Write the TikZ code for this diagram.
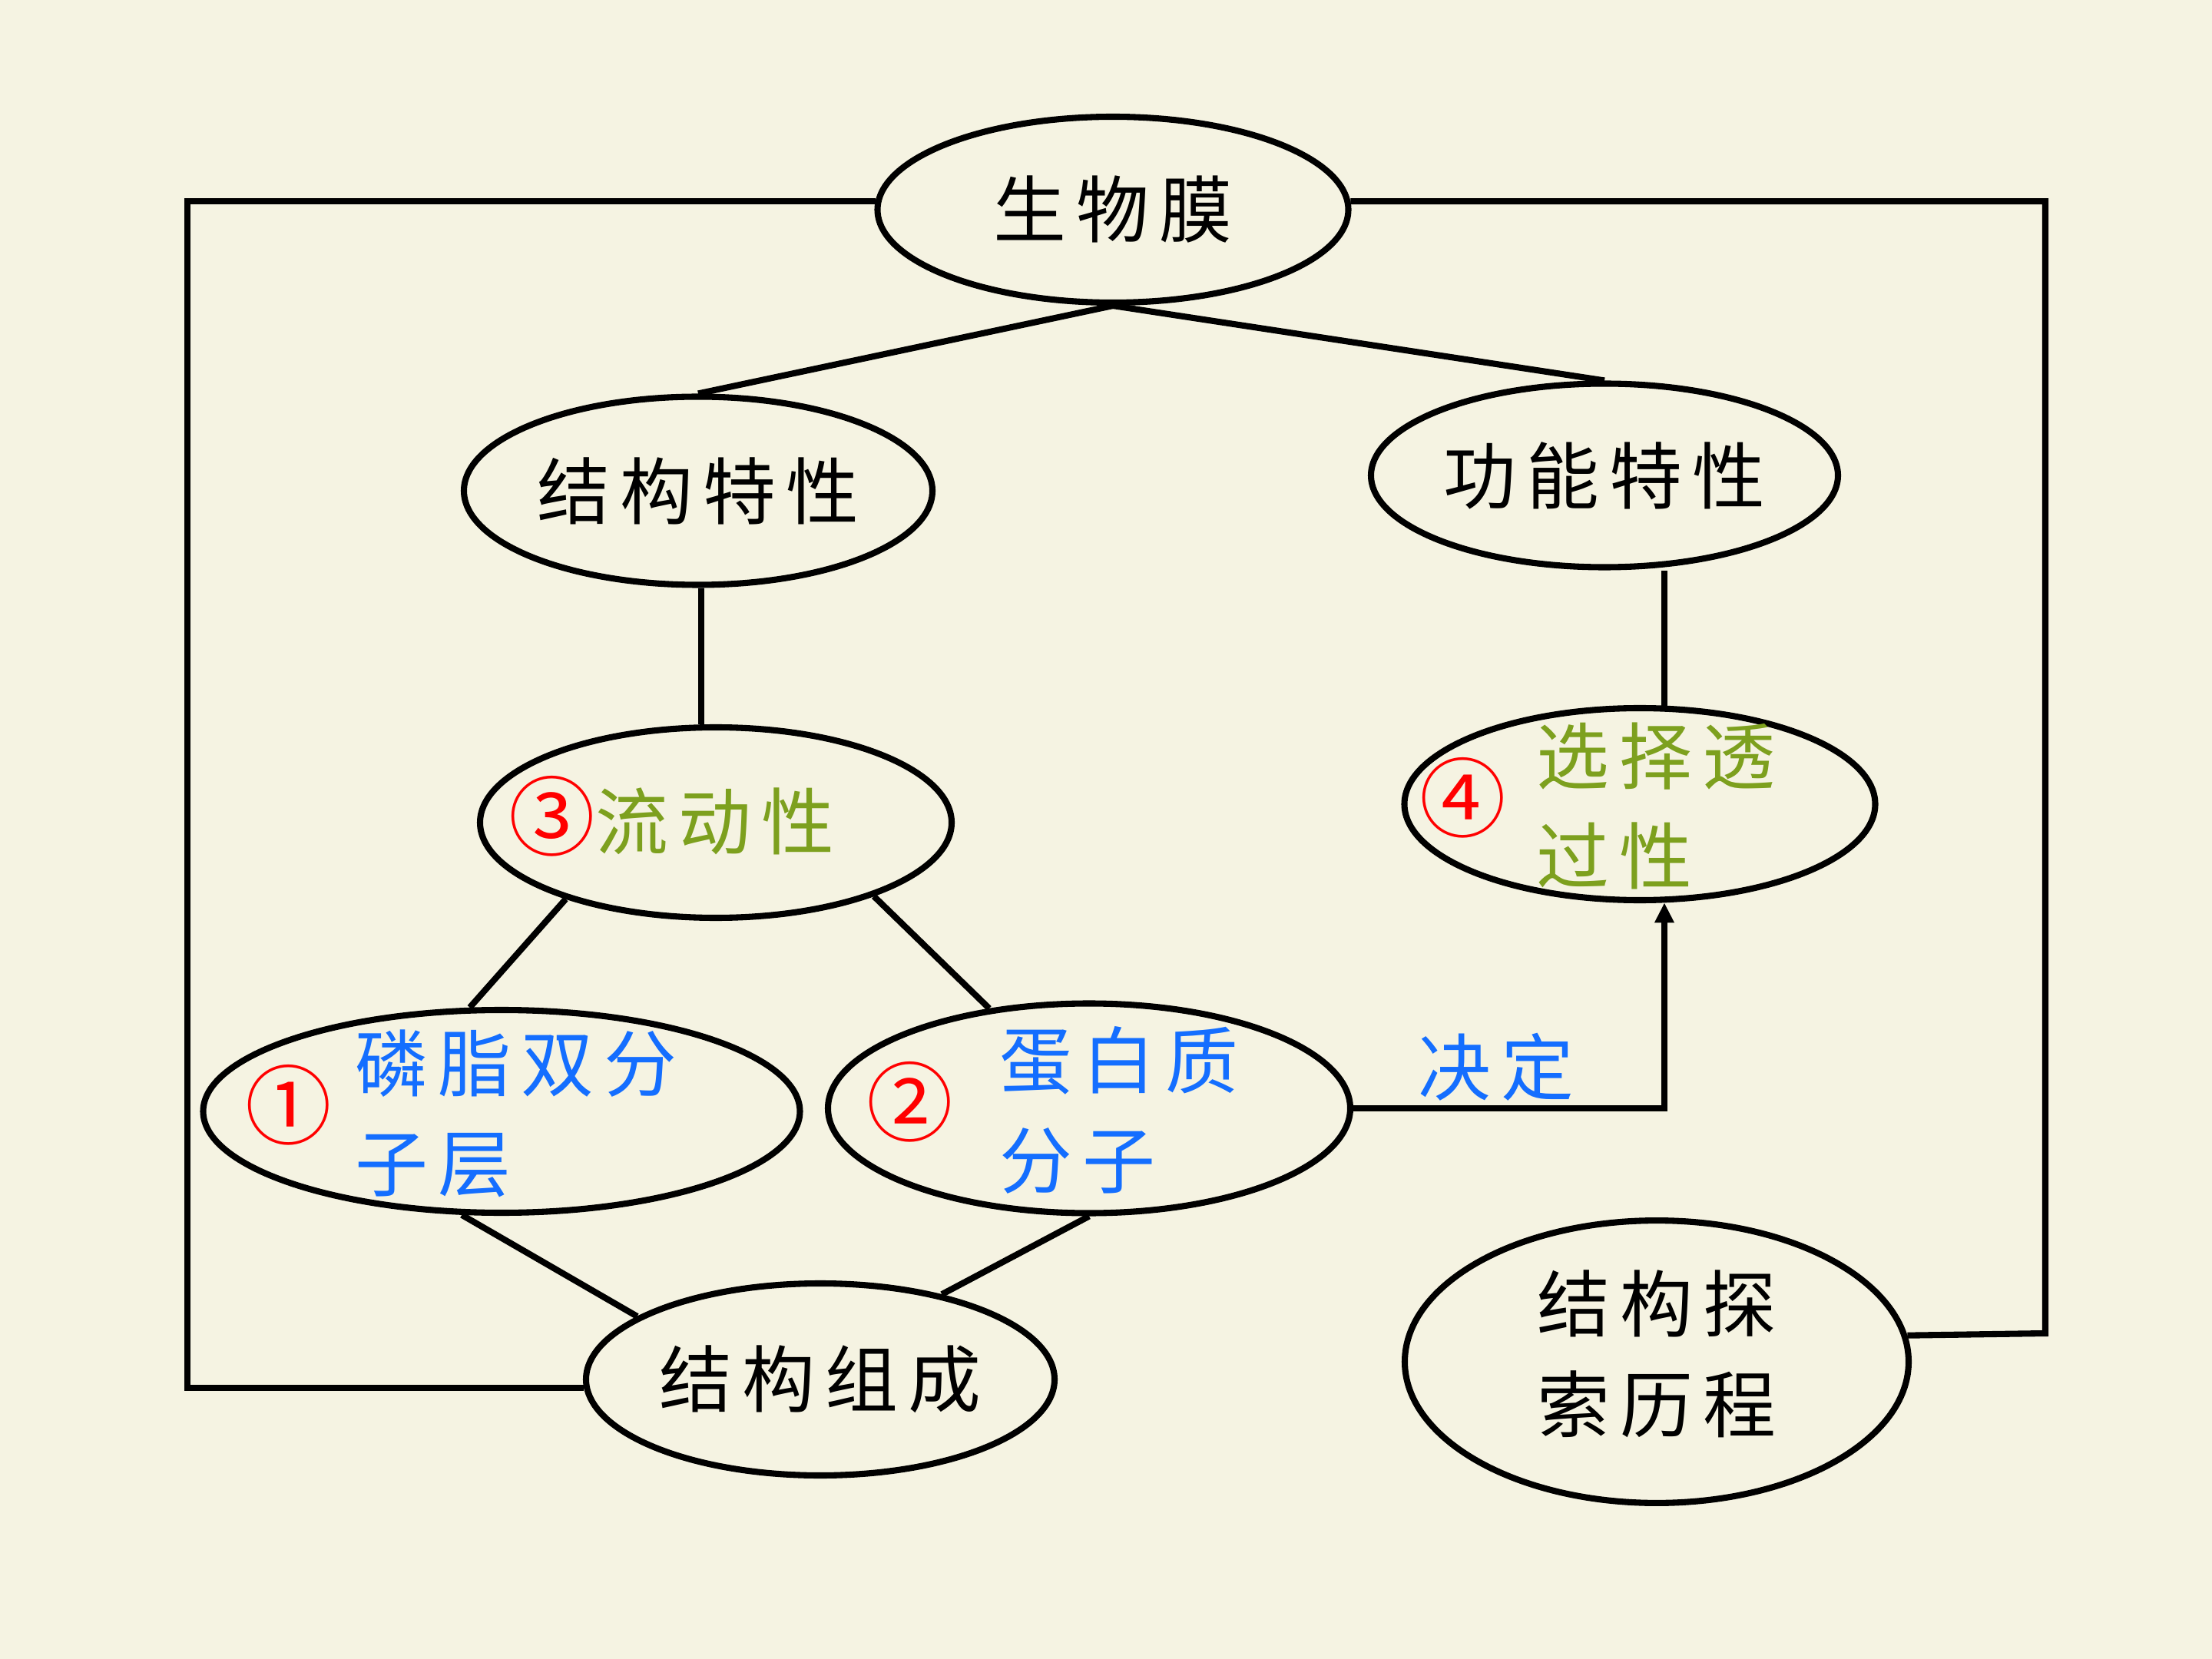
\documentclass[tikz,border=0pt]{standalone}
\usepackage{fontspec}
\setmainfont{Noto Sans CJK SC}[LetterSpace=14]
\usetikzlibrary{shapes.geometric, arrows.meta}
\definecolor{paper}{RGB}{245,243,226}
\definecolor{kblue}{RGB}{20,110,255}
\definecolor{kgreen}{RGB}{125,160,30}
\newcommand{\circnum}[1]{{\color{red}\fontsize{32}{32}\selectfont #1}}
\newcommand{\twolines}[2]{\begin{tabular}{@{}l@{}}#1\\#2\end{tabular}}
% text that does not grow the ellipse
\newcommand{\inoval}[1]{\makebox[0pt]{\smash{\raisebox{-0.36em}{#1}}}}

\begin{document}
\begin{tikzpicture}[
  oval/.style={ellipse, draw, line width=2.3pt, inner sep=0pt, minimum width=6.1cm,
               minimum height=2.45cm, align=center, font=\fontsize{27}{37}\selectfont},
  bluetxt/.style={oval, text=kblue},
  greentxt/.style={oval, text=kgreen},
  conn/.style={line width=2.3pt},
  arrow/.style={conn, -{Triangle[length=0.26cm, width=0.24cm]}},
]
\fill[paper] (0,0) rectangle (28.8,-21.6);

% Top: membrane
\node[oval, minimum width=6.13cm, minimum height=2.42cm] (bio) at (14.49,-2.73) {生物膜};

% Second row: properties
\node[oval] (struct) at (9.09,-6.39) {结构特性};
\node[oval, minimum width=6.08cm, minimum height=2.39cm] (func) at (20.89,-6.19) {功能特性};
\draw[conn] (bio.south) -- (struct.north);
\draw[conn] (bio.south) -- (func.north);

% Third row: fluidity and selective permeability
\node[greentxt, minimum width=6.14cm, minimum height=2.48cm] (flow) at (9.32,-10.71)
  {\inoval{\circnum{③}流动性\hspace{1.15cm}}};
\node[greentxt, minimum width=6.13cm, minimum height=2.5cm] (sel) at (21.35,-10.47)
  {\inoval{\circnum{④}\hspace{0.4cm}\twolines{选择透}{过性}\hspace{1.1cm}}};
\draw[conn] (struct.-88) -- (struct.-88 |- flow.north);
\draw[conn] (sel.76) -- (sel.76 |- func.south);

% Fourth row: components
\node[bluetxt, minimum width=7.77cm, minimum height=2.64cm] (lip) at (6.53,-14.47)
  {\inoval{\circnum{①}\hspace{0.3cm}\twolines{磷脂双分}{子层}\hspace{1.05cm}}};
\node[bluetxt, minimum width=6.8cm, minimum height=2.73cm] (prot) at (14.18,-14.43)
  {\inoval{\circnum{②}\hspace{0.6cm}\twolines{蛋白质}{分子}\hspace{0.95cm}}};
\draw[conn] (flow.207) -- (lip.107);
\draw[conn] (flow.-25) -- (prot.135);
\draw[arrow] (prot.east) -| (sel.-76)
  node[pos=0.23, above=0.06cm, inner sep=0pt, text=kblue, font=\fontsize{27}{37}\selectfont] (dec) {决定};

% Bottom: composition and history
\node[oval, minimum height=2.5cm] (comp) at (10.68,-17.96) {结构组成};
\node[oval, minimum width=6.56cm, minimum height=2.95cm] (hist) at (21.57,-17.73) {\twolines{结构探}{索历程}};
\draw[conn] (lip.-111) -- (comp.161);
\draw[conn] (prot.south) -- (comp.35);

% Outer frame
\coordinate (lc) at (2.44,-18.05);
\coordinate (rc) at (26.63,-17.36);
\draw[conn] (bio.178) -| (lc |- comp.182) -- (comp.182);
\draw[conn] (bio.2) -| (rc) -- (hist.6.5);

\end{tikzpicture}
\end{document}
